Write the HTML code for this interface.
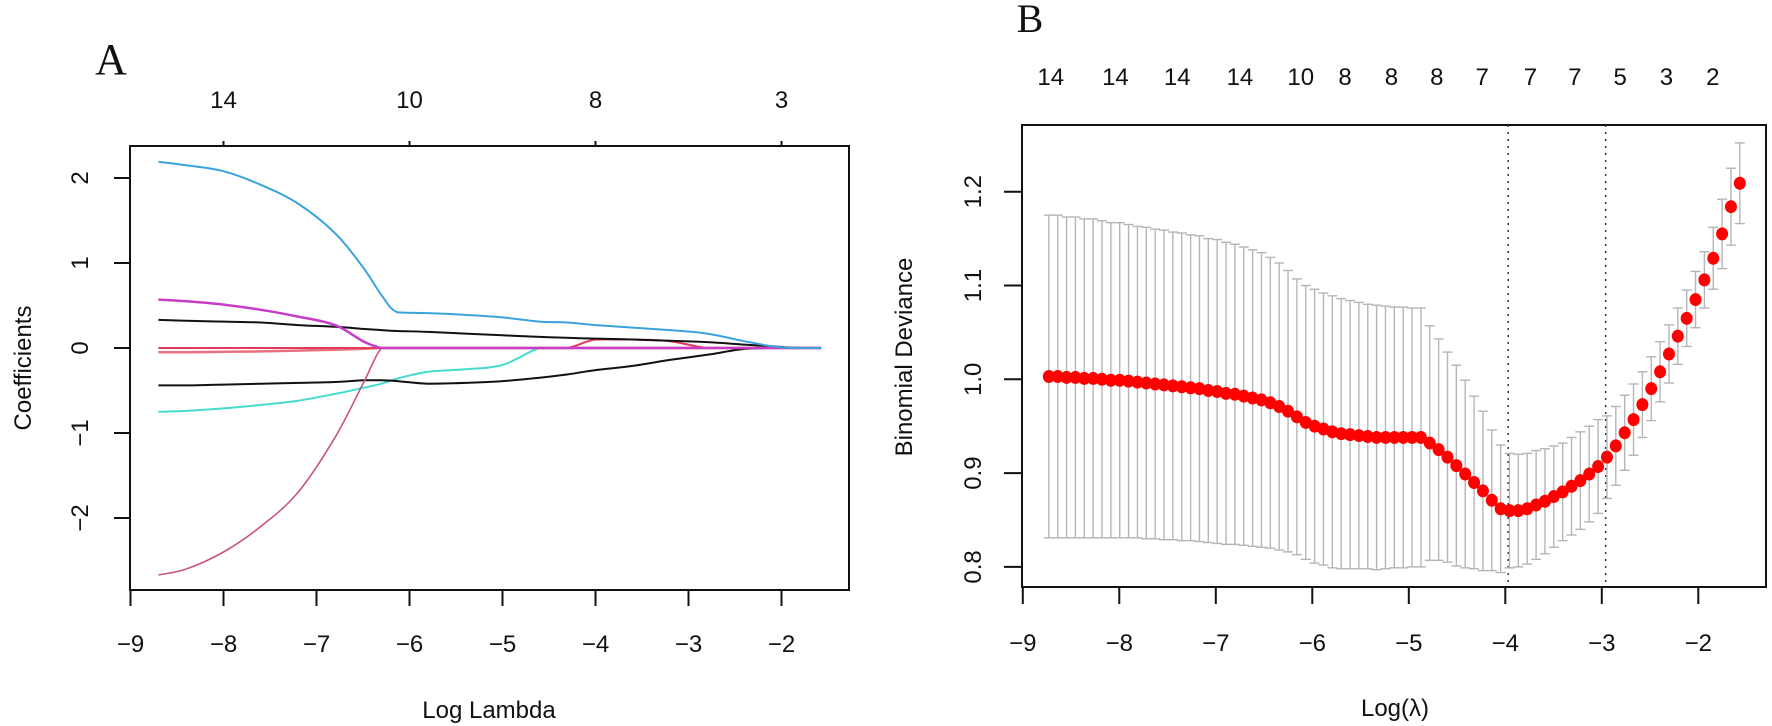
<!DOCTYPE html>
<html><head><meta charset="utf-8"><style>
html,body{margin:0;padding:0;background:#fff;}
svg{display:block;}
text{font-family:"Liberation Sans",Arial,sans-serif;fill:#111;}
</style></head><body>
<svg id="chart" width="1772" height="726" viewBox="0 0 1772 726" xmlns="http://www.w3.org/2000/svg">
<g id="panelA"></g>
<g id="panelB"></g>
</svg>
<script>
// ---------- Panel A data ----------
const lambdaGrid = [-8.7,-8.4,-8,-7.6,-7.2,-6.8,-6.5,-6.3,-6.13,-5.8,-5.4,-5,-4.6,-4.3,-4,-3.6,-3.2,-2.8,-2.4,-2.1,-1.9,-1.57];
const coefBlue   = [2.19,2.15,2.08,1.92,1.70,1.35,0.95,0.62,0.42,0.41,0.39,0.36,0.31,0.30,0.27,0.24,0.21,0.17,0.08,0.02,0,0];
const coefMagenta= [0.57,0.55,0.51,0.45,0.37,0.27,0.08,0,0,0,0,0,0,0,0,0,0,0,0,0,0,0];
const coefBlackUp= [0.33,0.32,0.31,0.30,0.27,0.25,0.225,0.21,0.20,0.19,0.17,0.15,0.13,0.12,0.11,0.10,0.085,0.07,0.04,0.02,0.005,0];
const coefBlackLo= [-0.44,-0.44,-0.43,-0.42,-0.41,-0.40,-0.38,-0.38,-0.39,-0.42,-0.41,-0.39,-0.35,-0.31,-0.26,-0.21,-0.14,-0.08,-0.01,0,0,0];
const coefCyan   = [-0.75,-0.74,-0.71,-0.67,-0.62,-0.54,-0.47,-0.42,-0.36,-0.28,-0.25,-0.20,0,0,0,0,0,0,0,0,0,0];
const coefPink   = [-2.67,-2.6,-2.4,-2.1,-1.7,-1.05,-0.42,0,0,0,0,0,0,0,0,0,0,0,0,0,0,0];
const coefRed    = [0,0,0,0,0,0,0,0,0,0,0,0,0,0,0.1,0.1,0.08,0,0,0,0,0];
const coefSalmon = [-0.05,-0.05,-0.045,-0.04,-0.03,-0.02,-0.01,0,0,0,0,0,0,0,0,0,0,0,0,0,0,0];
const coefGreen  = [0,0,0,0,0,0,0,0,0,0,0,0,0,0,0,0,0,0,0,0,0,0];
const xTicksA = [-9,-8,-7,-6,-5,-4,-3,-2];
const yTicksA = [-2,-1,0,1,2];
const topTicksA = [-8,-6,-4,-2];
const topLabelsA = ["14","10","8","3"];

// ---------- Panel B data ----------
const lambdaStart = -8.73, lambdaStep = 0.0918;
const devMean = [1.003,1.003,1.002,1.002,1.001,1.001,1.000,0.999,0.999,0.998,
0.997,0.996,0.995,0.994,0.993,0.992,0.991,0.990,0.988,0.987,
0.985,0.984,0.982,0.980,0.978,0.975,0.971,0.966,0.960,0.954,
0.950,0.947,0.944,0.942,0.941,0.940,0.939,0.938,0.938,0.938,
0.938,0.938,0.938,0.932,0.925,0.917,0.908,0.899,0.890,0.881,
0.871,0.862,0.860,0.860,0.862,0.866,0.870,0.875,0.880,0.886,
0.892,0.899,0.907,0.917,0.929,0.943,0.957,0.973,0.990,1.008,
1.027,1.046,1.065,1.085,1.106,1.129,1.155,1.184,1.209];
const devSE = [.172,.172,.171,.171,.170,.170,.169,.168,.168,.167,
.166,.166,.165,.165,.164,.164,.163,.163,.162,.162,
.161,.160,.159,.158,.157,.155,.153,.150,.147,.146,
.146,.145,.145,.144,.143,.142,.141,.141,.140,.139,
.139,.138,.138,.125,.118,.112,.107,.100,.092,.085,
.075,.068,.061,.060,.059,.058,.056,.054,.052,.052,
.052,.051,.050,.044,.042,.040,.038,.035,.034,.032,
.031,.030,.030,.030,.030,.033,.037,.041,.043];
const vlineLambdas = [-3.97,-2.96];
const xTicksB = [-9,-8,-7,-6,-5,-4,-3,-2];
const yTicksB = [0.8,0.9,1.0,1.1,1.2];
const yTickLabelsB = ["0.8","0.9","1.0","1.1","1.2"];
const topLambdasB = [-8.71,-8.04,-7.40,-6.75,-6.12,-5.66,-5.18,-4.71,-4.24,-3.74,-3.28,-2.81,-2.33,-1.85];
const topLabelsB = ["14","14","14","14","10","8","8","8","7","7","7","5","3","2"];

const NS = "http://www.w3.org/2000/svg";
function mk(parent, tag, attrs, txt){
  const e = document.createElementNS(NS, tag);
  for (const k in attrs) e.setAttribute(k, attrs[k]);
  if (txt !== undefined) e.textContent = txt;
  parent.appendChild(e);
  return e;
}
function smoothPath(pts){
  let d = `M${pts[0][0].toFixed(1)},${pts[0][1].toFixed(1)}`;
  for (let i=0;i<pts.length-1;i++){
    const p0 = pts[Math.max(0,i-1)], p1 = pts[i], p2 = pts[i+1], p3 = pts[Math.min(pts.length-1,i+2)];
    let c1y = p1[1] + (p2[1]-p0[1])/6, c2y = p2[1] - (p3[1]-p1[1])/6;
    // avoid overshoot on flat segments
    const lo = Math.min(p1[1],p2[1]), hi = Math.max(p1[1],p2[1]);
    c1y = Math.min(hi,Math.max(lo,c1y)); c2y = Math.min(hi,Math.max(lo,c2y));
    const c1x = p1[0] + (p2[0]-p0[0])/6, c2x = p2[0] - (p3[0]-p1[0])/6;
    d += ` C${c1x.toFixed(1)},${c1y.toFixed(1)} ${c2x.toFixed(1)},${c2y.toFixed(1)} ${p2[0].toFixed(1)},${p2[1].toFixed(1)}`;
  }
  return d;
}

// ---------- Panel A ----------
const A = document.getElementById('panelA');
const xA = v => 130.5 + (v + 9) * 93;
const yA = v => 348 - v * 85;

let t = mk(A,'text',{x:111,y:74,'font-size':44,'text-anchor':'middle',style:'font-family:"Liberation Serif",serif'},'A');



const boxA = mk(A,'rect',{x:130,y:146,width:719,height:444,fill:'none',stroke:'#111','stroke-width':2});



xTicksA.forEach(v=>{
  const l = mk(A,'line',{x1:xA(v),x2:xA(v),y1:590,y2:606,stroke:'#111','stroke-width':2});
  
  
  const tx = mk(A,'text',{x:xA(v),y:652,'font-size':24,'text-anchor':'middle'},(v<0?'\u2212':'')+Math.abs(v));
  
  
});
yTicksA.forEach(v=>{
  const l = mk(A,'line',{x1:114,x2:130,y1:yA(v),y2:yA(v),stroke:'#111','stroke-width':2});
  
  
  const tx = mk(A,'text',{x:0,y:0,'font-size':24,'text-anchor':'middle',transform:`translate(88,${yA(v)}) rotate(-90)`},(v<0?'\u2212':'')+Math.abs(v));
  
  
});
topTicksA.forEach((v,i)=>{
  const l = mk(A,'line',{x1:xA(v),x2:xA(v),y1:141,y2:146,stroke:'#111','stroke-width':2});
  
  
  const tx = mk(A,'text',{x:xA(v),y:108,'font-size':24,'text-anchor':'middle'},topLabelsA[i]);
  
  
});
t = mk(A,'text',{x:489,y:718,'font-size':24,'text-anchor':'middle'},'Log Lambda');


t = mk(A,'text',{x:0,y:0,'font-size':24,'text-anchor':'middle',transform:'translate(31,368) rotate(-90)'},'Coefficients');



const seriesA = [
  [coefGreen,'#2E8B57',2,'coef-path-green'],
  [coefSalmon,'#E9707F',2.5,'coef-path-salmon'],
  [coefRed,'#E23A5A',2,'coef-path-red'],
  [coefCyan,'#45DCD0',2,'coef-path-cyan'],
  [coefBlackLo,'#111',2,'coef-path-black-lower'],
  [coefBlackUp,'#111',2,'coef-path-black-upper'],
  [coefPink,'#C9557A',1.6,'coef-path-pink'],
  [coefMagenta,'#C83CC8',2.5,'coef-path-magenta'],
  [coefBlue,'#3AA3DC',2,'coef-path-blue']
];
seriesA.forEach(s=>{
  const pts = lambdaGrid.map((l,i)=>[xA(l), yA(s[0][i])]);
  const p = mk(A,'path',{d:smoothPath(pts),fill:'none',stroke:s[1],'stroke-width':s[2],'stroke-linejoin':'round'});
  
  
});

// ---------- Panel B ----------
const B = document.getElementById('panelB');
const xB = v => 1022.8 + (v + 9) * 96.5;
const yB = v => 379.3 - (v - 1.0) * 938;

t = mk(B,'text',{x:1030,y:32,'font-size':40,'text-anchor':'middle',style:'font-family:"Liberation Serif",serif'},'B');



const boxB = mk(B,'rect',{x:1022,y:125,width:744,height:462,fill:'none',stroke:'#111','stroke-width':2});



xTicksB.forEach(v=>{
  const l = mk(B,'line',{x1:xB(v),x2:xB(v),y1:587,y2:604,stroke:'#111','stroke-width':2});
  
  
  const tx = mk(B,'text',{x:xB(v),y:651,'font-size':24,'text-anchor':'middle'},(v<0?'\u2212':'')+Math.abs(v));
  
  
});
yTicksB.forEach((v,i)=>{
  const l = mk(B,'line',{x1:1004,x2:1022,y1:yB(v),y2:yB(v),stroke:'#111','stroke-width':2});
  
  
  const tx = mk(B,'text',{x:0,y:0,'font-size':24,'text-anchor':'middle',transform:`translate(981,${yB(v)}) rotate(-90)`},yTickLabelsB[i]);
  
  
});
topLambdasB.forEach((v,i)=>{
  const tx = mk(B,'text',{x:xB(v),y:85,'font-size':24,'text-anchor':'middle'},topLabelsB[i]);
  
  
});
t = mk(B,'text',{x:1395,y:716,'font-size':24,'text-anchor':'middle'},'Log(\u03bb)');


t = mk(B,'text',{x:0,y:0,'font-size':24,'text-anchor':'middle',transform:'translate(912,357) rotate(-90)'},'Binomial Deviance');



vlineLambdas.forEach(v=>{
  const l = mk(B,'line',{x1:xB(v),x2:xB(v),y1:125,y2:587,stroke:'#333','stroke-width':1.5,'stroke-dasharray':'2,5'});
  
  
});

devMean.forEach((m,i)=>{
  const lam = lambdaStart + i*lambdaStep;
  const x = xB(lam), yu = yB(m + devSE[i]), yl = yB(m - devSE[i]);
  const g = mk(B,'g',{});
  
  
  mk(g,'line',{x1:x,x2:x,y1:yu,y2:yl,stroke:'#b5b5b5','stroke-width':1.4});
  mk(g,'line',{x1:x-5,x2:x+5,y1:yu,y2:yu,stroke:'#b5b5b5','stroke-width':1.4});
  mk(g,'line',{x1:x-5,x2:x+5,y1:yl,y2:yl,stroke:'#b5b5b5','stroke-width':1.4});
});
devMean.forEach((m,i)=>{
  const lam = lambdaStart + i*lambdaStep;
  const c = mk(B,'ellipse',{cx:xB(lam),cy:yB(m),rx:6,ry:6.5,fill:'#ff0000'});
  
  
});
</script>
</body></html>
